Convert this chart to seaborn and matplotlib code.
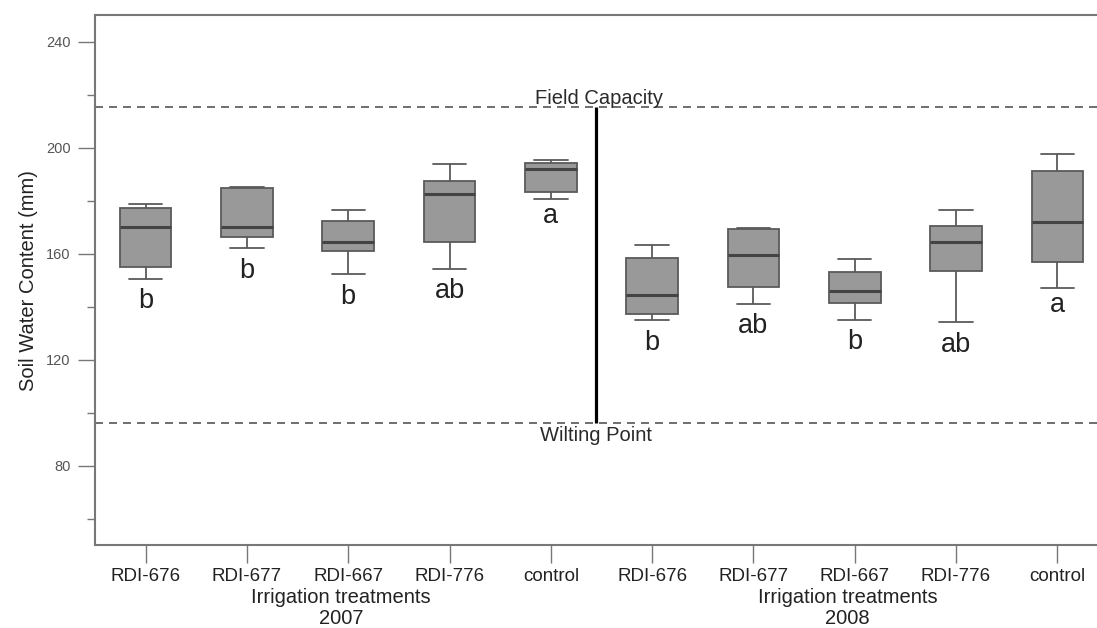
import matplotlib
matplotlib.use("Agg")
import matplotlib.pyplot as plt
import matplotlib.transforms as mtransforms
import numpy as np
import pandas as pd
import seaborn as sns

# Treatments and seasons
treatments = ["RDI-676", "RDI-677", "RDI-667", "RDI-776", "control"]
years = ["2007", "2008"]

# Five-number summaries of soil water content (mm): min, Q1, median, Q3, max
min_2007 = [150.6, 162.1, 152.2, 154.3, 180.8]
q1_2007 = [155.0, 166.4, 160.8, 164.2, 183.4]
med_2007 = [170.2, 170.1, 164.5, 182.6, 191.9]
q3_2007 = [177.4, 184.9, 172.3, 187.4, 194.2]
max_2007 = [178.6, 185.0, 176.4, 193.7, 195.5]

min_2008 = [135.0, 141.1, 135.1, 134.2, 146.9]
q1_2008 = [137.1, 147.4, 141.5, 153.6, 157.0]
med_2008 = [144.3, 159.5, 145.8, 164.2, 172.1]
q3_2008 = [158.5, 169.4, 153.1, 170.6, 191.2]
max_2008 = [163.1, 169.6, 158.0, 176.4, 197.6]

# Significance letters
letters_2007 = ["b", "b", "b", "ab", "a"]
letters_2008 = ["b", "ab", "b", "ab", "a"]

# Reference soil water levels (mm)
field_capacity = 215.5
wilting_point = 96.0

# ---- build long-form table ----
summaries = {
    "2007": (min_2007, q1_2007, med_2007, q3_2007, max_2007),
    "2008": (min_2008, q1_2008, med_2008, q3_2008, max_2008),
}
rows = []
order = []
for yr in years:
    for i, t in enumerate(treatments):
        g = f"{t} {yr}"
        order.append(g)
        for arr in summaries[yr]:
            rows.append({"group": g, "swc": arr[i]})
df = pd.DataFrame(rows)

sns.set_style("ticks")
plt.rcParams["font.family"] = ["Liberation Sans", "DejaVu Sans"]

fig = plt.figure(figsize=(10.97, 6.28), dpi=100)
ax = fig.add_axes([95 / 1097, 83 / 628, 1013 / 1097, (545 - 15.2) / 628])

sns.boxplot(
    data=df, x="group", y="swc", order=order, ax=ax,
    color="#999999", saturation=1, width=0.51, whis=(0, 100),
    linecolor="#5a5a5a", linewidth=1.3, capwidths=0.33,
    medianprops=dict(color="#444444", linewidth=2.2),
)

# Reference lines and season divider
dash = (0, (4.8, 3.6))
ax.axhline(field_capacity, color="#555555", lw=1.2, ls=dash, zorder=1)
ax.axhline(wilting_point, color="#555555", lw=1.2, ls=dash, zorder=1)
divider_x = 4.45
ax.vlines(divider_x, wilting_point, field_capacity, color="black", lw=2.3, zorder=3)

ax.annotate("Field Capacity", (4.48, field_capacity), xytext=(0, 2.2),
            textcoords="offset points", ha="center", va="baseline",
            fontsize=14.5, color="#2a2a2a")
ax.annotate("Wilting Point", (4.45, wilting_point), xytext=(0, -2.2),
            textcoords="offset points", ha="center", va="top",
            fontsize=14.5, color="#2a2a2a")

# Letters under each box
all_letters = letters_2007 + letters_2008
all_mins = min_2007 + min_2008
for pos, (lab, lo) in enumerate(zip(all_letters, all_mins)):
    gap = -7 if any(c in "bdfhklt" for c in lab) else -3
    ax.annotate(lab, (pos, lo), xytext=(0, gap), textcoords="offset points",
                ha="center", va="top", fontsize=19.5, color="#222222")

# Axes styling
ax.set_xlim(-0.5, 9.5)
ax.set_ylim(50, 250)
ax.set_yticks([80, 120, 160, 200, 240])
ax.set_yticks([60, 100, 140, 180, 220], minor=True)
ax.set_xticks(range(len(order)))
ax.set_xticklabels(treatments * 2)
ax.set_xlabel("")
ax.set_ylabel("Soil Water Content (mm)", fontsize=14.5, color="#222222")
ax.yaxis.label.set_va("center")
ax.yaxis.set_label_coords((28 - 95) / 1013, 0.5)

ax.tick_params(axis="y", which="major", length=12, width=1, color="#777777",
               labelsize=10.5, labelcolor="#555555", pad=5.5)
ax.tick_params(axis="y", which="minor", length=6, width=1, color="#777777")
ax.tick_params(axis="x", length=13, width=1, color="#777777",
               labelsize=13.5, labelcolor="#222222", pad=3.5)

for side in ["left", "top", "bottom"]:
    ax.spines[side].set_color("#777777")
    ax.spines[side].set_linewidth(1.5)
ax.spines["right"].set_visible(False)

# Group titles beneath the tick labels
trans = mtransforms.blended_transform_factory(ax.transData, fig.transFigure)
for center, yr in zip([1.93, 6.93], years):
    ax.text(center, 25 / 628, "Irrigation treatments", transform=trans,
            ha="center", va="baseline", fontsize=14.5, color="#222222")
    ax.text(center, 4 / 628, yr, transform=trans,
            ha="center", va="baseline", fontsize=14.5, color="#222222")

fig.savefig("out.png", dpi=100)
